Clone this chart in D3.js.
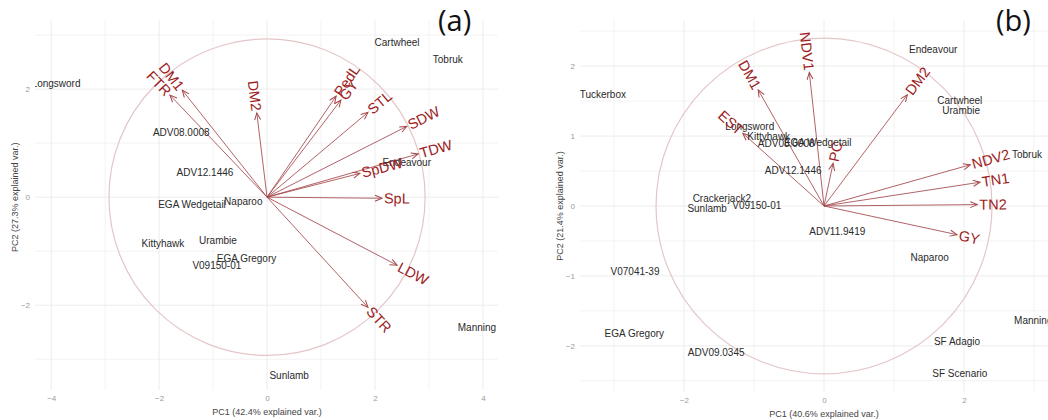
<!DOCTYPE html>
<html>
<head>
<meta charset="utf-8">
<script src="https://cdn.jsdelivr.net/npm/d3@7"></script>
<style>
  body { margin: 0; background: #fff; }
  text { font-family: "Liberation Sans", Arial, sans-serif; }
</style>
</head>
<body>
<div id="chart"></div>
<script>
// ---- panel (a) data ----
const samplesA = ["Longsword", "ADV08.0008", "ADV12.1446", "EGA Wedgetail", "Naparoo", "Kittyhawk",
  "Urambie", "EGA Gregory", "V09150-01", "Sunlamb", "Manning", "Cartwheel", "Tobruk", "Endeavour"];
const samplePC1A = [-3.91, -1.59, -1.15, -1.39, -0.44, -1.93, -0.91, -0.38, -0.93, 0.41, 3.89, 2.41, 3.35, 2.59];
const samplePC2A = [2.11, 1.20, 0.46, -0.13, -0.08, -0.85, -0.80, -1.13, -1.26, -3.31, -2.41, 2.87, 2.54, 0.65];

const varsA = ["FTR", "DM1", "DM2", "PedL", "GY", "STL", "SDW", "TDW", "SpDW", "SpL", "LDW", "STR"];
const varPC1A = [-1.80, -1.57, -0.19, 1.28, 1.37, 1.87, 2.59, 2.80, 1.72, 2.13, 2.41, 1.87];
const varPC2A = [1.89, 1.98, 1.56, 1.87, 1.80, 1.57, 1.31, 0.80, 0.44, -0.02, -1.26, -2.04];

const xTicksA = [-4, -2, 0, 2, 4];
const xMinorA = [-3, -1, 1, 3];
const yTicksA = [-2, 0, 2];
const yMinorA = [-3, -1, 1, 3];

// ---- panel (b) data ----
const samplesB = ["Tuckerbox", "Longsword", "Kittyhawk", "ADV08.0008", "EGA Wedgetail", "ADV12.1446",
  "Crackerjack2", "Sunlamb", "V09150-01", "ADV11.9419", "Naparoo", "Endeavour", "Cartwheel", "Urambie",
  "Tobruk", "Manning", "SF Adagio", "SF Scenario", "V07041-39", "EGA Gregory", "ADV09.0345"];
const samplePC1B = [-3.16, -1.06, -0.79, -0.54, -0.09, -0.44, -1.46, -1.67, -0.96, 0.19, 1.51, 1.56, 1.94, 1.96,
  2.90, 2.99, 1.90, 1.94, -2.70, -2.71, -1.54];
const samplePC2B = [1.59, 1.14, 0.99, 0.89, 0.91, 0.51, 0.11, -0.03, 0.01, -0.37, -0.73, 2.24, 1.51, 1.36,
  0.73, -1.64, -1.94, -2.40, -0.93, -1.83, -2.09];

const varsB = ["NDV1", "DM1", "EST", "PC", "DM2", "NDV2", "TN1", "TN2", "GY"];
const varPC1B = [-0.21, -0.94, -1.16, 0.13, 1.19, 2.09, 2.23, 2.19, 1.90];
const varPC2B = [1.91, 1.66, 1.04, 0.61, 1.59, 0.59, 0.34, 0.02, -0.41];

const xTicksB = [-2, 0, 2];
const xMinorB = [-3, -1, 1, 3];
const yTicksB = [-2, -1, 0, 1, 2];
const yMinorB = [-2.5, -1.5, -0.5, 0.5, 1.5, 2.5];

const W = 1048, H = 420;
const svg = d3.select("#chart").append("svg")
  .attr("width", W)
  .attr("height", H);

const defs = svg.append("defs");
defs.append("marker")
  .attr("id", "arrowhead")
  .attr("markerUnits", "userSpaceOnUse")
  .attr("markerWidth", 12)
  .attr("markerHeight", 12)
  .attr("viewBox", "-10 -6 12 12")
  .attr("refX", 0)
  .attr("refY", 0)
  .attr("orient", "auto")
  .append("path")
  .attr("d", "M-7,-3 L0,0 L-7,3")
  .attr("fill", "none")
  .attr("stroke", "#a4474b")
  .attr("stroke-width", 1);

function drawBiplot(p) {
  const g = svg.append("g");

  const x = d3.scaleLinear().domain(p.xDomain).range(p.xRange);
  const y = d3.scaleLinear().domain(p.yDomain).range(p.yRange);

  defs.append("clipPath").attr("id", "clip-" + p.id)
    .append("rect")
    .attr("x", p.xRange[0]).attr("y", p.yRange[1])
    .attr("width", p.xRange[1] - p.xRange[0])
    .attr("height", p.yRange[0] - p.yRange[1]);

  // grid
  const grid = g.append("g");
  grid.selectAll(".vminor").data(p.xMinor).enter().append("line")
    .attr("x1", d => x(d)).attr("x2", d => x(d))
    .attr("y1", p.yRange[1]).attr("y2", p.yRange[0])
    .attr("stroke", "#f3f3f3");
  grid.selectAll(".hminor").data(p.yMinor).enter().append("line")
    .attr("y1", d => y(d)).attr("y2", d => y(d))
    .attr("x1", p.xRange[0]).attr("x2", p.xRange[1])
    .attr("stroke", "#f3f3f3");
  grid.selectAll(".vmajor").data(p.xTicks).enter().append("line")
    .attr("x1", d => x(d)).attr("x2", d => x(d))
    .attr("y1", p.yRange[1]).attr("y2", p.yRange[0])
    .attr("stroke", "#ececec");
  grid.selectAll(".hmajor").data(p.yTicks).enter().append("line")
    .attr("y1", d => y(d)).attr("y2", d => y(d))
    .attr("x1", p.xRange[0]).attr("x2", p.xRange[1])
    .attr("stroke", "#ececec");

  // axes (labels only)
  const xAxis = d3.axisBottom(x).tickValues(p.xTicks).tickSize(0).tickPadding(0)
    .tickFormat(d3.format("d"));
  const yAxis = d3.axisLeft(y).tickValues(p.yTicks).tickSize(0).tickPadding(0)
    .tickFormat(d3.format("d"));
  const gx = g.append("g").attr("transform", `translate(0,${p.yRange[0] + 5})`).call(xAxis);
  const gy = g.append("g").attr("transform", `translate(${p.xRange[0] - 5},0)`).call(yAxis);
  [gx, gy].forEach(a => {
    a.select(".domain").remove();
    a.selectAll("text")
      .attr("fill", "#9a9a9a")
      .style("font-size", "8px")
      .style("font-family", "Liberation Sans, Arial, sans-serif");
  });

  g.append("text")
    .attr("x", x(0)).attr("y", p.yRange[0] + 25)
    .attr("text-anchor", "middle")
    .attr("fill", "#444")
    .style("font-size", "9px")
    .text(p.xTitle);
  g.append("text")
    .attr("transform", `translate(${p.yTitleX},${y(0)}) rotate(-90)`)
    .attr("text-anchor", "middle")
    .attr("dy", "0.35em")
    .attr("fill", "#444")
    .style("font-size", "9px")
    .text(p.yTitle);

  const plot = g.append("g").attr("clip-path", `url(#clip-${p.id})`);

  // correlation circle
  plot.append("ellipse")
    .attr("cx", x(0)).attr("cy", y(0))
    .attr("rx", x(p.circleR) - x(0))
    .attr("ry", y(0) - y(p.circleR))
    .attr("fill", "none")
    .attr("stroke", "#e4c6c8")
    .attr("stroke-width", 1.2);

  const vars = p.vars.map((name, i) => ({ name, vx: p.varX[i], vy: p.varY[i] }));
  const samples = p.samples.map((name, i) => ({ name, sx: p.sampleX[i], sy: p.sampleY[i] }));

  // arrows
  plot.selectAll(".arrow").data(vars).enter().append("line")
    .attr("class", "arrow")
    .attr("x1", x(0)).attr("y1", y(0))
    .attr("x2", d => x(d.vx)).attr("y2", d => y(d.vy))
    .attr("stroke", "#a4474b")
    .attr("stroke-opacity", 0.85)
    .attr("stroke-width", 1)
    .attr("marker-end", "url(#arrowhead)");

  // sample labels
  plot.selectAll(".sample").data(samples).enter().append("text")
    .attr("class", "sample")
    .attr("x", d => x(d.sx)).attr("y", d => y(d.sy))
    .attr("text-anchor", "middle")
    .attr("dy", "0.35em")
    .attr("fill", "#2a2a2a")
    .style("font-size", "10px")
    .text(d => d.name);

  // variable labels, rotated along the arrow like ggbiplot
  plot.selectAll(".varname").data(vars).enter().append("text")
    .attr("class", "varname")
    .attr("transform", d => {
      const ang = Math.atan(d.vy / d.vx) * 180 / Math.PI;
      return `translate(${x(d.vx)},${y(d.vy)}) rotate(${-ang})`;
    })
    .attr("text-anchor", d => d.vx > 0 ? "start" : "end")
    .attr("dx", d => d.vx > 0 ? 2 : -2)
    .attr("dy", "0.35em")
    .attr("fill", "#9c1c22")
    .style("font-size", "14.5px")
    .text(d => d.name);

  // panel tag
  svg.append("text")
    .attr("x", p.tagX).attr("y", 31)
    .attr("fill", "#111")
    .style("font-size", "29px")
    .style("font-family", "Open Sans, Liberation Sans, sans-serif")
    .text(p.tag);
}

drawBiplot({
  id: "a",
  xDomain: [-4.3, 4.28], xRange: [35, 498],
  yDomain: [-3.57, 3.28], yRange: [390, 20],
  xTicks: xTicksA, xMinor: xMinorA, yTicks: yTicksA, yMinor: yMinorA,
  xTitle: "PC1 (42.4% explained var.)",
  yTitle: "PC2 (27.3% explained var.)",
  yTitleX: 15,
  circleR: 2.93,
  samples: samplesA, sampleX: samplePC1A, sampleY: samplePC2A,
  vars: varsA, varX: varPC1A, varY: varPC2A,
  tag: "(a)", tagX: 438
});

drawBiplot({
  id: "b",
  xDomain: [-3.486, 3.2], xRange: [580, 1048],
  yDomain: [-2.66, 2.66], yRange: [392, 20],
  xTicks: xTicksB, xMinor: xMinorB, yTicks: yTicksB, yMinor: yMinorB,
  xTitle: "PC1 (40.6% explained var.)",
  yTitle: "PC2 (21.4% explained var.)",
  yTitleX: 560,
  circleR: 2.4,
  samples: samplesB, sampleX: samplePC1B, sampleY: samplePC2B,
  vars: varsB, varX: varPC1B, varY: varPC2B,
  tag: "(b)", tagX: 996
});
</script>
</body>
</html>
